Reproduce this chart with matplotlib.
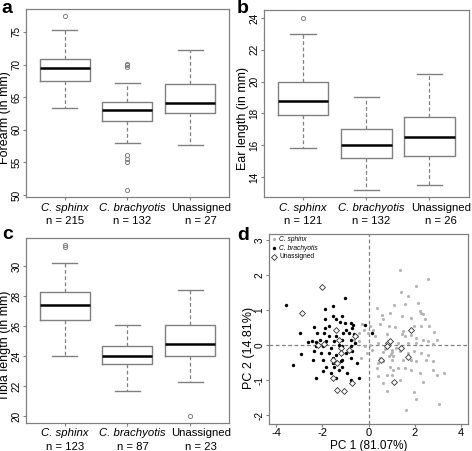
import matplotlib
matplotlib.use("Agg")
import matplotlib.pyplot as plt

plt.rcParams['font.family'] = ['Liberation Sans', 'DejaVu Sans']

groups = ["C. sphinx", "C. brachyotis", "Unassigned"]
italic = [True, True, False]

# boxplot summaries: (whislo, q1, med, q3, whishi, fliers)
forearm = [(63.4, 67.5, 69.4, 70.9, 75.3, [77.4]),
           (58.0, 61.4, 63.1, 64.3, 67.2, [69.6, 69.9, 70.1, 56.2, 55.5, 55.1, 50.8]),
           (57.6, 62.6, 64.1, 67.0, 72.3, [])]
forearm_n = [215, 132, 27]

ear = [(15.8, 17.9, 18.8, 20.0, 23.0, [24.0]),
       (13.2, 15.2, 16.0, 17.0, 19.0, []),
       (13.5, 15.3, 16.5, 17.8, 20.5, [])]
ear_n = [121, 132, 26]

tibia = [(24.0, 26.4, 27.4, 28.3, 30.2, [31.3, 31.4]),
         (21.7, 23.5, 24.0, 24.7, 26.1, []),
         (22.3, 24.0, 24.8, 26.1, 28.4, [20.0])]
tibia_n = [123, 87, 23]

# PCA scores
sphinx_pc1 = [1.37, 2.55, 2.05, 1.39, 1.70, 1.08, 1.56, 2.15, 2.20, 2.27, 2.34, 0.34, 0.57, 0.93,
              1.42, 1.84, 2.45, 0.64, 0.50, 0.88, 1.13, 1.49, 1.98, 2.27, 2.62, 2.83, 0.21, 0.07,
              -0.28, -0.21, -0.42, -0.04, 0.28, 0.78, 1.42, 1.56, 1.84, 2.05, 2.34, 2.80, 2.97,
              0.42, 0.85, 1.27, 1.70, 2.05, 2.55, 0.07, -0.35, -0.07, 0.50, 0.85, 0.99, 1.20,
              1.35, 1.70, 1.98, 2.27, 2.55, 1.49, 1.84, 2.05, 2.48, 2.76, 0.42, 0.64, 0.99, 0.35,
              0.92, 1.27, 1.56, 1.84, 2.20, 2.34, 2.76, 2.97, 3.26, 0.40, 0.78, 0.99, 1.06, 0.64,
              1.35, 1.98, 2.05, 3.05, 0.78, 1.60, -0.64, -0.52, -0.42, -0.17, 0.14, 0.95, 0.90,
              1.00, 1.05, 0.60, 0.70]
sphinx_pc2 = [2.16, 1.89, 1.70, 1.51, 1.41, 1.14, 1.17, 1.20, 0.98, 0.93, 0.88, 1.07, 0.86, 0.91,
              0.84, 0.79, 0.74, 0.74, 0.60, 0.55, 0.53, 0.40, 0.55, 0.55, 0.55, 0.38, 0.45, 0.55,
              0.62, 0.45, 0.36, 0.36, 0.26, 0.31, 0.31, 0.26, 0.28, 0.21, 0.16, 0.05, 0.16,
              0.07, 0.02, 0.07, 0.07, 0.07, 0.12, 0.02, -0.37, -0.22, -0.37, -0.03, -0.13, -0.08,
              -0.17, -0.22, -0.17, -0.22, -0.27, -0.41, -0.41, -0.46, -0.41, -0.46, -0.51, -0.46,
              -0.41, -0.65, -0.61, -0.65, -0.65, -0.70, -0.80, -1.04, -0.70, -0.85, -0.80, -0.88,
              -0.84, -0.85, -0.70, -1.09, -0.99, -1.33, -1.54, -1.69, -1.31, -1.85, 0.16, 0.26,
              0.12, -0.01, -0.13, -0.25, -0.30, -0.20, -0.30, -0.20, -0.10]

brach_pc1 = [-3.57, -2.97, -2.93, -3.26, -2.34, -2.44, -2.27, -2.38, -2.27, -2.22, -1.87, -1.56,
             -1.01, -1.53, -1.13, -1.87, -1.42, -1.25, -1.02, -0.78, -0.68, -0.17, 0.14, -1.87,
             -1.70, -1.91, -1.42, -0.99, -0.71, -1.73, -1.42, -1.10, -0.85, -0.64, -2.10, -1.84,
             -1.49, -1.13, -0.78, -2.27, -1.98, -1.63, -1.13, -0.78, -0.57, -2.05, -1.70, -1.42,
             -0.99, -0.71, -1.95, -1.56, -1.16, -0.78, -1.84, -1.49, -1.13, -1.98, -1.63, -0.92,
             -1.42, -0.78, -0.40, -0.71, -1.56, -1.27, -2.41, -2.60, -1.30, -0.50, -1.20]
brach_pc2 = [1.15, 0.34, -0.24, -0.56, 0.52, 0.12, 0.09, -0.17, -0.94, 0.36, 1.03, 1.11,
             1.34, 0.84, 0.84, 0.74, 0.74, 0.67, 0.64, 0.63, 0.57, 0.57, 0.34, 0.50,
             0.55, 0.36, 0.45, 0.45, 0.50, 0.26, 0.26, 0.36, 0.36, 0.31, 0.16, 0.12,
             0.12, 0.16, 0.16, -0.03, -0.03, -0.08, -0.03, -0.03, 0.07, -0.22, -0.22, -0.27,
             -0.22, -0.17, -0.41, -0.37, -0.41, -0.37, -0.61, -0.61, -0.61, -0.75, -0.80, -0.80,
             -0.94, -0.99, -0.94, -1.09, -0.51, -0.70, -0.41, 0.10, 0.00, -0.50, -0.45]

unas_pc1 = [-2.01, -2.88, -1.56, -1.35, -1.06, -0.71, 1.09, 1.81, 1.39, 1.69, 0.52, -1.42,
            -0.59, -1.27, -1.91, -2.19, -1.20, -1.20, -1.56, -1.35, 0.85, 0.78, 0.92, -0.85]
unas_pc2 = [1.68, 0.91, -0.94, -1.28, -1.30, -1.07, -1.06, 0.45, -0.08, -0.34, -0.41, 0.45,
            0.26, 0.16, 0.05, 0.02, -0.08, -0.22, -0.41, -0.51, 0.07, -0.03, 0.12, -0.13]

EDGE = "#808080"
TICK_FS = 7.2
GROUP_FS = 8.2
YLAB_FS = 9

fig = plt.figure(figsize=(4.72, 4.51), dpi=100)


def style_axes(ax, rect, label_y):
    for s in ax.spines.values():
        s.set_color(EDGE)
        s.set_linewidth(0.9)
    ax.tick_params(length=2.5, color=EDGE, width=0.8, labelsize=TICK_FS, pad=0.6)
    for lab in ax.get_yticklabels():
        lab.set_rotation(90)
        lab.set_va('center')
    # label's right (descender) side ~14.5 px left of the frame
    ax.yaxis.set_label_coords(-14.5 / (rect[2] * 472), label_y)


def box_panel(rect, stats, counts, ylabel, ylim, yticks):
    ax = fig.add_axes(rect)
    bxp = []
    for (lo, q1, med, q3, hi, fl) in stats:
        bxp.append(dict(whislo=lo, q1=q1, med=med, q3=q3, whishi=hi, fliers=fl))
    ax.bxp(bxp, positions=[1, 2, 3], widths=0.8, showfliers=True,
           boxprops=dict(color=EDGE, linewidth=1.0),
           medianprops=dict(color="black", linewidth=1.8),
           whiskerprops=dict(color=EDGE, linewidth=0.9, linestyle=(0, (3, 2))),
           capprops=dict(color=EDGE, linewidth=1.0),
           flierprops=dict(marker='o', markersize=3, markerfacecolor='none',
                           markeredgecolor=EDGE, markeredgewidth=0.7))
    ax.set_xlim(0.38, 3.62)
    ax.set_ylim(*ylim)
    ax.set_yticks(yticks)
    ax.set_xticks([1, 2, 3])
    ax.set_xticklabels([])
    ax.set_ylabel(ylabel, fontsize=YLAB_FS)
    style_axes(ax, rect, 0.42)
    label_x = [1.0, 2.08, 3.18]
    for x, g, it, n in zip(label_x, groups, italic, counts):
        ax.annotate(g, xy=(x, 0), xycoords=('data', 'axes fraction'),
                    xytext=(0, -7.5), textcoords='offset points', ha='center', va='center',
                    fontsize=GROUP_FS, fontstyle='italic' if it else 'normal',
                    annotation_clip=False)
        ax.annotate(f"n = {n}", xy=(x, 0), xycoords=('data', 'axes fraction'),
                    xytext=(0, -17), textcoords='offset points', ha='center', va='center',
                    fontsize=GROUP_FS, annotation_clip=False)
    return ax


box_panel([0.055, 0.563, 0.430, 0.417], forearm, forearm_n, "Forearm (in mm)",
          (49.7, 78.5), [50, 55, 60, 65, 70, 75])
box_panel([0.559, 0.563, 0.434, 0.415], ear, ear_n, "Ear length (in mm)",
          (12.74, 24.5), [14, 16, 18, 20, 22, 24])
box_panel([0.055, 0.062, 0.430, 0.410], tibia, tibia_n, "Tibia length (in mm)",
          (19.54, 31.86), [20, 22, 24, 26, 28, 30])

# panel d
rect = [0.570, 0.060, 0.422, 0.421]
ax = fig.add_axes(rect)
ax.axvline(0, color=EDGE, linestyle=(0, (3, 2)), linewidth=0.9, zorder=1)
ax.axhline(0, color=EDGE, linestyle=(0, (3, 2)), linewidth=0.9, zorder=1)
ax.scatter(sphinx_pc1, sphinx_pc2, s=5, color="#b3b3b3", linewidths=0, zorder=2,
           label="C. sphinx")
ax.scatter(brach_pc1, brach_pc2, s=6, color="black", linewidths=0, zorder=3,
           label="C. brachyotis")
ax.scatter(unas_pc1, unas_pc2, s=9, marker='D', facecolors='white', edgecolors='#333333',
           linewidths=0.6, zorder=4, label="Unassigned")
ax.set_xlim(-4.3, 4.3)
ax.set_ylim(-2.25, 3.18)
ax.set_xticks([-4, -2, 0, 2, 4])
ax.set_xticklabels(["-4", "-2", "0", "2", "4"])
ax.set_yticks([-2, -1, 0, 1, 2, 3])
ax.set_yticklabels(["-2", "-1", "0", "1", "2", "3"])
ax.set_xlabel("PC 1 (81.07%)", fontsize=8.5, labelpad=1)
ax.set_ylabel("PC 2 (14.81%)", fontsize=YLAB_FS)
style_axes(ax, rect, 0.40)
ax.tick_params(axis='x', labelsize=8)
leg = ax.legend(loc='upper left', frameon=False, fontsize=4.8, handletextpad=0.2,
                borderaxespad=0.2, labelspacing=0.25, handlelength=1.0,
                borderpad=0.1)
for t in leg.get_texts()[:2]:
    t.set_fontstyle('italic')

# panel letters
for letter, x, y in [("a", 0.002, 0.971), ("b", 0.502, 0.971),
                     ("c", 0.004, 0.470), ("d", 0.502, 0.468)]:
    fig.text(x, y, letter, fontsize=14, fontweight='bold', va='baseline', ha='left')

fig.savefig("out.png", dpi=100)
